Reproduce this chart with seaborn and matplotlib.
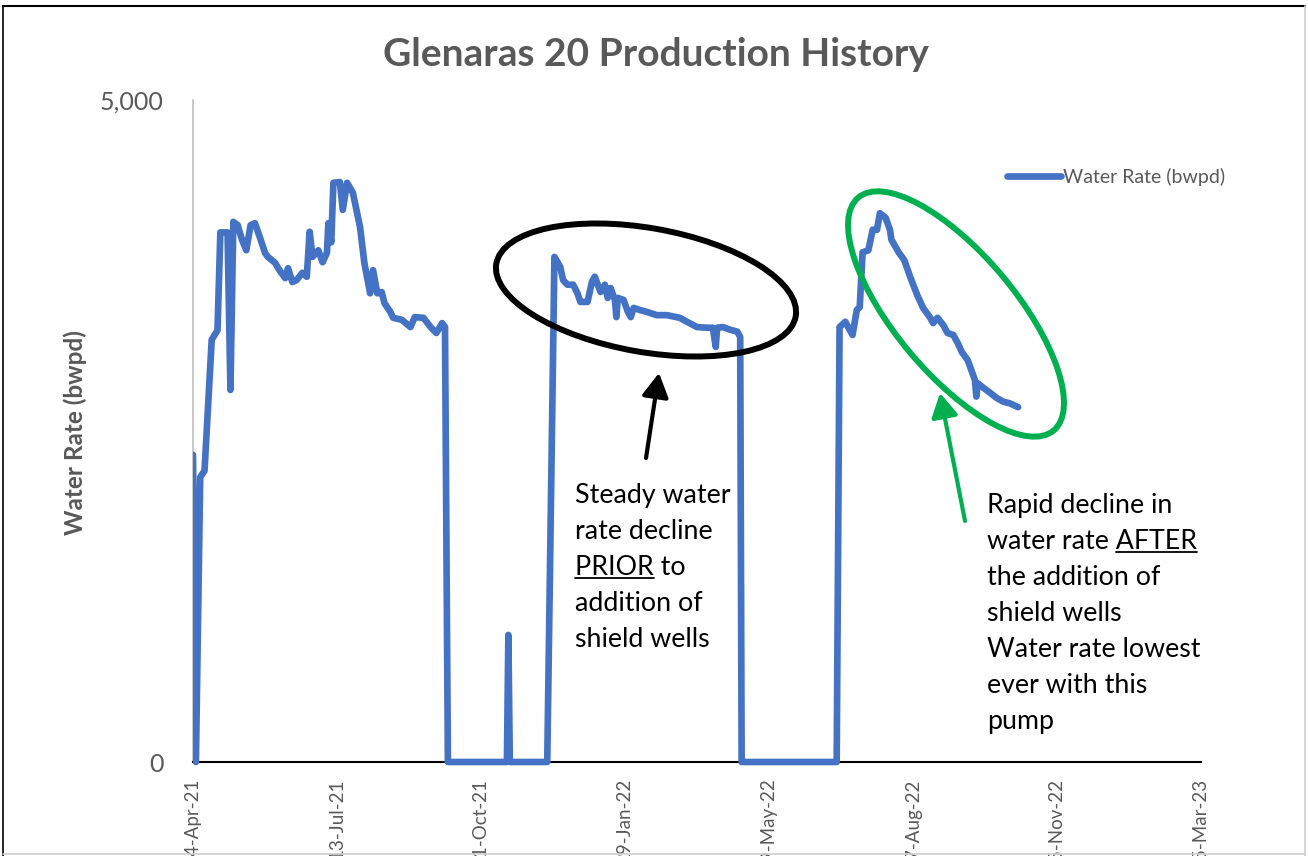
import numpy as np
import pandas as pd
import matplotlib
matplotlib.use("Agg")
import matplotlib.pyplot as plt
import matplotlib.dates as mdates
from matplotlib.patches import Ellipse, FancyArrowPatch, Rectangle
from matplotlib.transforms import IdentityTransform
from matplotlib.lines import Line2D
import seaborn as sns

# ---------------- data ----------------
start_date = "2021-04-04"
days = [0, 2, 5, 8, 13, 17, 19, 24, 26, 28, 31, 34, 37, 40, 43, 47, 50, 52, 57, 60,
        64, 66, 69, 72, 76, 79, 81, 83, 87, 90, 93, 94, 96, 97.5, 102, 104, 107, 111, 116, 119,
        123, 125, 128, 131, 133, 137, 139, 145, 151, 154, 160, 165, 169, 173, 175, 177,
        218, 219, 220, 246, 251, 255, 257, 260, 264, 267, 269, 274, 277, 279,
        283, 286, 288, 290, 293, 294, 295, 299, 302, 304, 306, 310, 315, 322, 329, 336,
        338, 343, 350, 357, 361, 363, 364, 368, 373, 378, 380, 381, 447, 449,
        453, 458, 461, 463, 465, 469, 472, 475, 477, 481, 484, 485, 490, 494, 498, 503,
        507, 512, 514, 517, 521, 524, 528, 531, 534, 538, 541, 543, 544, 545, 549, 554,
        558, 563, 567, 573]
water_rate = [2320, 0, 2150, 2200, 3190, 3260, 4000, 4000, 2810, 4080, 4055, 3945, 3865, 4055, 4070, 3945, 3845, 3815, 3770, 3715,
              3655, 3730, 3625, 3640, 3695, 3665, 4005, 3815, 3865, 3775, 3845, 4070, 3925, 4375, 4380, 4170, 4375, 4300, 4040, 3770,
              3540, 3715, 3540, 3550, 3465, 3400, 3355, 3340, 3285, 3360, 3355, 3285, 3240, 3315, 3285, 0,
              0, 960, 0, 0, 3815, 3740, 3640, 3605, 3605, 3540, 3475, 3475, 3625, 3665,
              3550, 3605, 3505, 3580, 3490, 3360, 3505, 3490, 3400, 3360, 3430, 3415, 3400, 3375, 3375, 3360,
              3355, 3325, 3285, 3280, 3280, 3135, 3280, 3285, 3265, 3250, 3210, 0, 0, 3285,
              3325, 3225, 3415, 3435, 3850, 3865, 4020, 4020, 4145, 4110, 4020, 3945, 3850, 3790, 3665, 3525,
              3430, 3355, 3315, 3355, 3300, 3240, 3225, 3165, 3095, 3035, 2945, 2885, 2760, 2860, 2825, 2785,
              2750, 2720, 2710, 2680]
tick_days = [0, 100, 200, 300, 400, 500, 600, 700]
y_ticks = [0, 5000]
y_tick_labels = ["0", "5,000"]
series_label = "Water Rate (bwpd)"
title = "Glenaras 20 Production History"
y_label = "Water Rate (bwpd)"
note1 = [("", "", "Steady water"), ("", "", "rate decline"), ("", "PRIOR", " to"),
         ("", "", "addition of"), ("", "", "shield wells")]
note2 = [("", "", "Rapid decline in"), ("water rate ", "AFTER", ""), ("", "", "the addition of"),
         ("", "", "shield wells"), ("", "", "Water rate lowest"), ("", "", "ever with this"),
         ("", "", "pump")]

# ---------------- figure ----------------
W, H = 1308, 856
sns.set_style("white")
plt.rcParams["font.family"] = ["Lato", "DejaVu Sans"]

t0 = pd.Timestamp(start_date)
df = pd.DataFrame({"date": t0 + pd.to_timedelta(days, unit="D"), "rate": water_rate})

fig = plt.figure(figsize=(W / 100, H / 100), dpi=100)
ax = fig.add_axes([193 / W, 1 - 762 / H, (1201 - 193) / W, (762 - 100) / H])

sns.lineplot(data=df, x="date", y="rate", ax=ax, color="#4472C4", linewidth=4.8,
             sort=False, estimator=None, label=series_label, zorder=3)
line = ax.get_lines()[0]
line.set_solid_joinstyle("round")
line.set_solid_capstyle("round")
clip = Rectangle((0, -0.03), 1.1, 1.1, transform=ax.transAxes)
line.set_clip_path(clip)

ax.set_xlim(t0, t0 + pd.Timedelta(days=700))
ax.set_ylim(0, 5000)
ax.set_xticks([t0 + pd.Timedelta(days=d) for d in tick_days])
ax.xaxis.set_major_formatter(mdates.DateFormatter("%d-%b-%y"))
ax.tick_params(axis="x", rotation=90, length=0, pad=12, labelsize=13.5, labelcolor="#595959")
ax.set_yticks(y_ticks)
ax.set_yticklabels(y_tick_labels)
ax.tick_params(axis="y", length=0, pad=21, labelsize=18, labelcolor="#595959")
ax.set_xlabel("")
ax.set_ylabel("")
for s in ["top", "right"]:
    ax.spines[s].set_visible(False)
ax.spines["left"].set_color("#BFBFBF")
ax.spines["left"].set_linewidth(1.2)
ax.spines["bottom"].set_color("black")
ax.spines["bottom"].set_linewidth(1.5)
ax.grid(False)

leg = ax.legend(loc="center left", bbox_to_anchor=((1007 - 193) / 1008, (762 - 177) / 662),
                frameon=False, fontsize=14, handlelength=2.8, handletextpad=0.1,
                borderpad=0, borderaxespad=0)
for txt in leg.get_texts():
    txt.set_color("#595959")
for h in leg.legend_handles:
    h.set_linewidth(4.8)

fig.text(656 / W, 1 - 55 / H, title, ha="center", va="center", fontsize=28,
         fontweight="bold", color="#595959")
fig.text(75 / W, 1 - 433 / H, y_label, ha="center", va="center", rotation=90,
         fontsize=17.5, fontweight="bold", color="#595959")

# chart border
ident = IdentityTransform()
fig.add_artist(Line2D([3, 1305], [H - 6, H - 6], transform=ident, color="black", lw=1.5))
fig.add_artist(Line2D([3, 3], [H - 6, 0], transform=ident, color="black", lw=1.2))
fig.add_artist(Line2D([1305, 1305], [H - 6, 0], transform=ident, color="#D0D0D0", lw=1.2))
fig.add_artist(Line2D([3, 1305], [2, 2], transform=ident, color="#D0D0D0", lw=1.2))

# ellipses
fig.add_artist(Ellipse((646, H - 290), 304, 124, angle=-10, fill=False,
                       edgecolor="black", lw=4.3, transform=ident))
fig.add_artist(Ellipse((956, H - 314), 304, 120, angle=-50, fill=False,
                       edgecolor="#00B050", lw=4.3, transform=ident))

# arrows
for (xa, ya, xb, yb, c) in [(646, 458, 659, 373, "black"), (965, 521, 940, 393, "#00B050")]:
    fig.add_artist(FancyArrowPatch((xa, H - ya), (xb, H - yb), transform=ident,
                                   arrowstyle="-|>,head_length=0.8,head_width=0.45",
                                   mutation_scale=18, color=c, lw=3,
                                   shrinkA=0, shrinkB=0))

# annotation texts
renderer = fig.canvas.get_renderer()
fs_note = 19.3


def put_note(x0, base0, step, lines):
    for i, (pre, word, post) in enumerate(lines):
        yb = H - (base0 + i * step)
        full = pre + word + post
        t = fig.text(x0, yb, full, transform=ident, ha="left", va="baseline",
                     fontsize=fs_note, color="black")
        if word:
            tw = fig.text(0, 0, word, fontsize=fs_note)
            tfull = t.get_window_extent(renderer)
            wword = tw.get_window_extent(renderer).width
            xs = tfull.x1 - wword if post == "" else tfull.x0
            tw.remove()
            fig.add_artist(Line2D([xs, xs + wword], [yb - 3, yb - 3], transform=ident,
                                  color="black", lw=1.3))


put_note(575, 503, 36, note1)
put_note(987, 513, 36, note2)

fig.savefig("out.png", dpi=100)
